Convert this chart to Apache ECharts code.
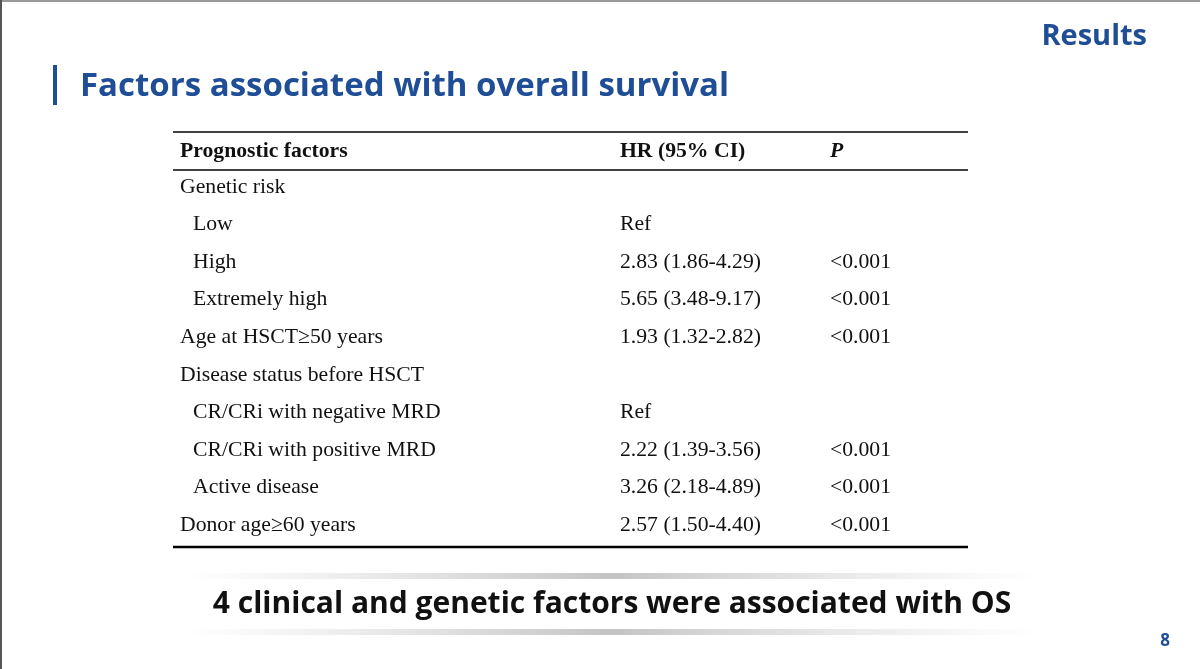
<!DOCTYPE html>
<html><head><meta charset="utf-8">
<script src="https://cdn.jsdelivr.net/npm/echarts@6/dist/echarts.min.js"></script>
<style>html,body{margin:0;padding:0;background:#fff}#c{width:1200px;height:669px}</style>
</head><body><div id="c"></div>
<script>
var chart = echarts.init(document.getElementById('c'));

var headers = ['Prognostic factors', 'HR (95% CI)', 'P'];
var factors = ['Genetic risk', 'Low', 'High', 'Extremely high', 'Age at HSCT\u226550 years',
  'Disease status before HSCT', 'CR/CRi with negative MRD', 'CR/CRi with positive MRD',
  'Active disease', 'Donor age\u226560 years'];
var indented = [false, true, true, true, false, false, true, true, true, false];
var hrs = ['', 'Ref', '2.83 (1.86-4.29)', '5.65 (3.48-9.17)', '1.93 (1.32-2.82)', '',
  'Ref', '2.22 (1.39-3.56)', '3.26 (2.18-4.89)', '2.57 (1.50-4.40)'];
var pvals = ['', '', '<0.001', '<0.001', '<0.001', '', '', '<0.001', '<0.001', '<0.001'];

var blue = '#1f4e96';
var serif = '"Liberation Serif", "DejaVu Serif", serif';
var g = [];

// slide frame
g.push({type: 'line', shape: {x1: 0, y1: 1, x2: 1200, y2: 1}, style: {stroke: '#999', lineWidth: 2}});
g.push({type: 'line', shape: {x1: 1, y1: 0, x2: 1, y2: 669}, style: {stroke: '#555', lineWidth: 2}});
g.push({type: 'text', style: {text: 'Results', x: 1147, y: 37, align: 'right', verticalAlign: 'middle',
  font: 'bold 29px "Open Sans", sans-serif', fill: blue}});
g.push({type: 'rect', shape: {x: 53, y: 65, width: 4, height: 40}, style: {fill: blue}});
g.push({type: 'text', style: {text: 'Factors associated with overall survival', x: 80, y: 87, verticalAlign: 'middle',
  font: 'bold 33px "Open Sans", sans-serif', fill: blue}});

// table rules
g.push({type: 'line', shape: {x1: 173, y1: 132, x2: 968, y2: 132}, style: {stroke: '#000', lineWidth: 1.5}});
g.push({type: 'line', shape: {x1: 173, y1: 170, x2: 968, y2: 170}, style: {stroke: '#000', lineWidth: 1.5}});
g.push({type: 'line', shape: {x1: 173, y1: 547, x2: 968, y2: 547}, style: {stroke: '#000', lineWidth: 2.5}});

var colX = [180, 620, 830];
var fs = '21.7px ';
headers.forEach(function (h, i) {
  g.push({type: 'text', style: {text: h, x: colX[i], y: 151, verticalAlign: 'middle',
    font: (i === 2 ? 'italic bold ' : 'bold ') + fs + serif, fill: '#111'}});
});
factors.forEach(function (f, i) {
  var y = 187 + i * 37.6;
  g.push({type: 'text', style: {text: f, x: indented[i] ? 193 : 180, y: y, verticalAlign: 'middle',
    font: fs + serif, fill: '#111'}});
  if (hrs[i]) g.push({type: 'text', style: {text: hrs[i], x: 620, y: y, verticalAlign: 'middle', font: fs + serif, fill: '#111'}});
  if (pvals[i]) g.push({type: 'text', style: {text: pvals[i], x: 830, y: y, verticalAlign: 'middle', font: fs + serif, fill: '#111'}});
});

// banner
function band(y) {
  return {type: 'rect', shape: {x: 180, y: y, width: 860, height: 6},
    style: {fill: new echarts.graphic.LinearGradient(0, 0, 1, 0, [
      {offset: 0, color: 'rgba(200,200,200,0)'}, {offset: 0.5, color: 'rgba(170,170,170,0.7)'},
      {offset: 1, color: 'rgba(200,200,200,0)'}])}};
}
g.push(band(573));
g.push(band(629));
g.push({type: 'text', style: {text: '4 clinical and genetic factors were associated with OS', x: 612, y: 604,
  align: 'center', verticalAlign: 'middle', font: 'bold 30px "Open Sans", sans-serif', fill: '#111'}});
g.push({type: 'text', style: {text: '8', x: 1165, y: 641, align: 'center', verticalAlign: 'middle',
  font: 'bold 17px "Open Sans", sans-serif', fill: blue}});

chart.setOption({backgroundColor: '#fff', graphic: g});
</script></body></html>
